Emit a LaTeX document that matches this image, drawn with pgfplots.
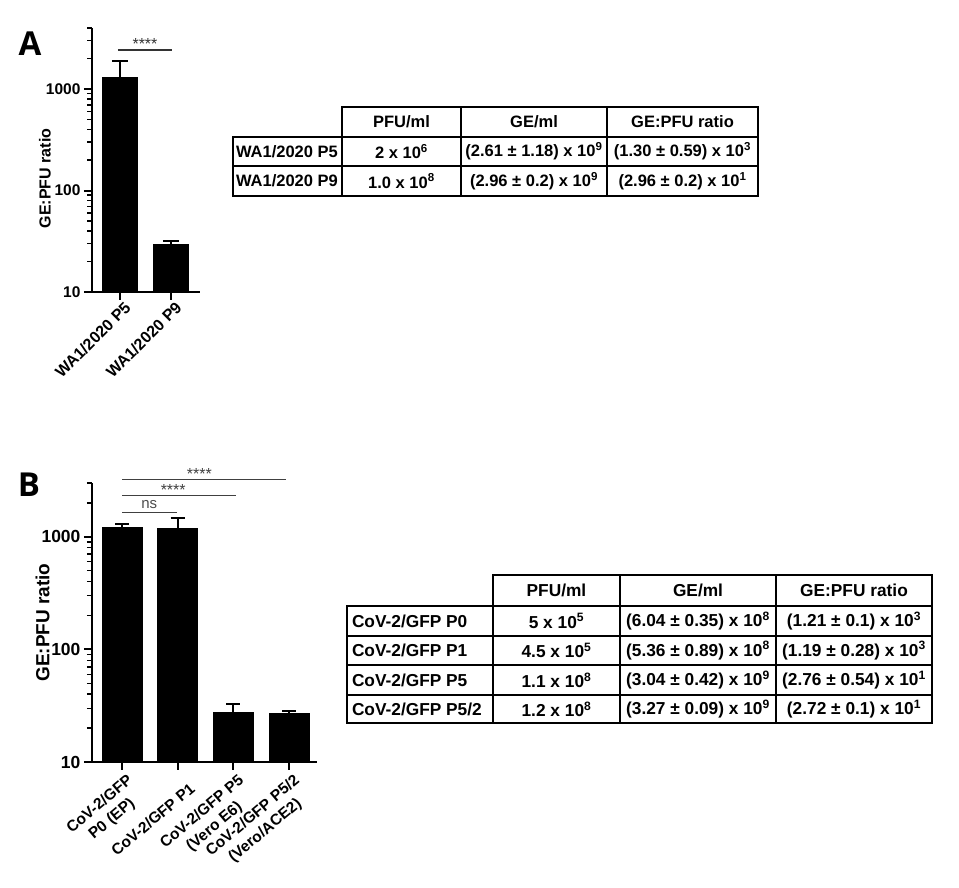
\documentclass[border=0pt]{standalone}
\usepackage{fontspec}
\setmainfont{Liberation Sans}
\newfontfamily\panelfont{Open Sans}
\usepackage{pgfplots}
\pgfplotsset{compat=1.18}
\begin{document}
\begin{tikzpicture}
\useasboundingbox (0,0) rectangle (959pt,-888pt);
% ---------- Panel A ----------
\node[font=\panelfont\bfseries\fontsize{33}{36}\selectfont] at (30pt,-44pt) {A};
\begin{axis}[
  scale only axis, clip=false,
  axis lines=left, axis line style={line width=2.4pt,-},
  ymode=log, log origin=infty,
  tick align=outside, major tick length=8pt, minor tick length=5pt,
  major tick style={line width=2pt,black},
  minor tick style={line width=1.5pt,black},
  ytick={10,100,1000}, yticklabels={10,100,1000},
  xtick={0,1},
  at={(92pt,-292pt)}, anchor=south west,
  width=108pt, height=264pt,
  ymin=10, ymax=4000, xmin=-0.549, xmax=1.569,
  minor ytick={20,30,40,50,60,70,80,90,200,300,400,500,600,700,800,900,2000,3000,4000},
  xticklabels={WA1/2020 P5, WA1/2020 P9},
  yticklabel style={font=\bfseries\fontsize{15.5}{18}\selectfont},
  xticklabel style={rotate=45, anchor=east, align=center, inner sep=1pt, xshift=3pt, yshift=-9pt, font=\bfseries\fontsize{16}{18}\selectfont},
  ylabel={GE:PFU ratio},
  ylabel style={font=\bfseries\fontsize{16}{19}\selectfont, at={(axis description cs:-0.435,0.43)}, anchor=center},
]
\addplot[ybar, bar width=35pt, fill=black, draw=black,
    error bars/.cd, y dir=plus, y explicit,
    error bar style={line width=2pt},
    error mark options={rotate=90, line width=2pt, mark size=8pt}]
  coordinates {(0,1300) +- (0,590) (1,29.6) +- (0,2)};
\draw[line width=1.4pt, black!80] (axis cs:-0.04,2430) -- (axis cs:1.02,2430);
\node[font=\fontsize{16}{16}\selectfont, anchor=base, inner sep=0pt, black!80] at (axis cs:0.49,2430) {****};
\end{axis}
% ---------- Table A ----------
\begin{scope}[x=1pt, y=-1pt, line width=2pt]
  \draw (342,107) rectangle (758,137);
  \draw (233,137) rectangle (758,196);
  \draw (233,166) -- (758,166);
  \foreach \xx in {461,607} \draw (\xx,107) -- (\xx,196);
  \draw (342,137) -- (342,196);
  \begin{scope}[every node/.style={font=\bfseries\fontsize{16.5}{19}\selectfont, inner sep=0pt}]
    \node at (401.5,122) {PFU/ml};
    \node at (534,122) {GE/ml};
    \node at (682.5,122) {GE:PFU ratio};
    \node[anchor=west] at (235,151.5) {WA1/2020 P5};
    \node[anchor=west] at (235,181) {WA1/2020 P9};
    \node at (401.5,151.5) {2 x 10\textsuperscript{6}};
    \node at (401.5,181) {1.0 x 10\textsuperscript{8}};
    \node at (534,151.5) {(2.61 ± 1.18) x 10\textsuperscript{9}};
    \node at (534,181) {(2.96 ± 0.2) x 10\textsuperscript{9}};
    \node at (682.5,151.5) {(1.30 ± 0.59) x 10\textsuperscript{3}};
    \node at (682.5,181) {(2.96 ± 0.2) x 10\textsuperscript{1}};
  \end{scope}
\end{scope}
% ---------- Panel B ----------
\node[font=\panelfont\bfseries\fontsize{33}{36}\selectfont] at (29pt,-485pt) {B};
\begin{axis}[
  scale only axis, clip=false,
  axis lines=left, axis line style={line width=2.4pt,-},
  ymode=log, log origin=infty,
  tick align=outside, major tick length=8pt, minor tick length=5pt,
  major tick style={line width=2pt,black},
  minor tick style={line width=1.5pt,black},
  ytick={10,100,1000}, yticklabels={10,100,1000},
  xtick={0,1,2,3},
  at={(92pt,-762pt)}, anchor=south west,
  width=225pt, height=279pt,
  ymin=10, ymax=3000, xmin=-0.539, xmax=3.503,
  minor ytick={20,30,40,50,60,70,80,90,200,300,400,500,600,700,800,900,2000,3000},
  xticklabels={{CoV-2/GFP\\P0 (EP)}, {CoV-2/GFP P1}, {CoV-2/GFP P5\\(Vero E6)}, {CoV-2/GFP P5/2\\(Vero/ACE2)}},
  yticklabel style={font=\bfseries\fontsize{17.5}{20}\selectfont},
  xticklabel style={rotate=40, anchor=east, align=center, inner sep=1pt, xshift=2pt, yshift=-22pt, font=\bfseries\fontsize{15.5}{19}\selectfont},
  ylabel={GE:PFU ratio},
  ylabel style={font=\bfseries\fontsize{19}{22}\selectfont, at={(axis description cs:-0.22,0.50)}, anchor=center},
]
\addplot[ybar, bar width=40pt, fill=black, draw=black,
    error bars/.cd, y dir=plus, y explicit,
    error bar style={line width=2pt},
    error mark options={rotate=90, line width=2pt, mark size=7pt}]
  coordinates {(0,1210) +- (0,100) (1,1190) +- (0,280) (2,27.6) +- (0,5.4) (3,27.2) +- (0,1)};
\draw[line width=1.4pt, black!75] (axis cs:0.0,1650) -- (axis cs:0.99,1650);
\node[font=\fontsize{15}{15}\selectfont, anchor=base, inner sep=0pt, black!70, yshift=4pt] at (axis cs:0.49,1650) {ns};
\draw[line width=1.4pt, black!75] (axis cs:0.0,2330) -- (axis cs:2.05,2330);
\node[font=\fontsize{16}{16}\selectfont, anchor=base, inner sep=0pt, black!75] at (axis cs:0.92,2330) {****};
\draw[line width=1.4pt, black!75] (axis cs:0.0,3228) -- (axis cs:2.95,3228);
\node[font=\fontsize{16}{16}\selectfont, anchor=base, inner sep=0pt, black!75] at (axis cs:1.39,3228) {****};
\end{axis}
% ---------- Table B ----------
\begin{scope}[x=1pt, y=-1pt, line width=2pt]
  \draw (493,575) rectangle (932,606);
  \draw (347,606) rectangle (932,723);
  \foreach \yy in {636,665,695} \draw (347,\yy) -- (932,\yy);
  \foreach \xx in {620,776} \draw (\xx,575) -- (\xx,723);
  \draw (493,606) -- (493,723);
  \begin{scope}[every node/.style={font=\bfseries\fontsize{17.3}{19}\selectfont, inner sep=0pt}]
    \node at (556.5,590.5) {PFU/ml};
    \node at (698,590.5) {GE/ml};
    \node at (854,590.5) {GE:PFU ratio};
    \node[anchor=west] at (351,621) {CoV-2/GFP P0};
    \node[anchor=west] at (351,650.5) {CoV-2/GFP P1};
    \node[anchor=west] at (351,680) {CoV-2/GFP P5};
    \node[anchor=west] at (351,709) {CoV-2/GFP P5/2};
    \node at (556.5,621) {5 x 10\textsuperscript{5}};
    \node at (556.5,650.5) {4.5 x 10\textsuperscript{5}};
    \node at (556.5,680) {1.1 x 10\textsuperscript{8}};
    \node at (556.5,709) {1.2 x 10\textsuperscript{8}};
    \node at (698,621) {(6.04 ± 0.35) x 10\textsuperscript{8}};
    \node at (698,650.5) {(5.36 ± 0.89) x 10\textsuperscript{8}};
    \node at (698,680) {(3.04 ± 0.42) x 10\textsuperscript{9}};
    \node at (698,709) {(3.27 ± 0.09) x 10\textsuperscript{9}};
    \node at (854,621) {(1.21 ± 0.1) x 10\textsuperscript{3}};
    \node at (854,650.5) {(1.19 ± 0.28) x 10\textsuperscript{3}};
    \node at (854,680) {(2.76 ± 0.54) x 10\textsuperscript{1}};
    \node at (854,709) {(2.72 ± 0.1) x 10\textsuperscript{1}};
  \end{scope}
\end{scope}
\end{tikzpicture}
\end{document}
